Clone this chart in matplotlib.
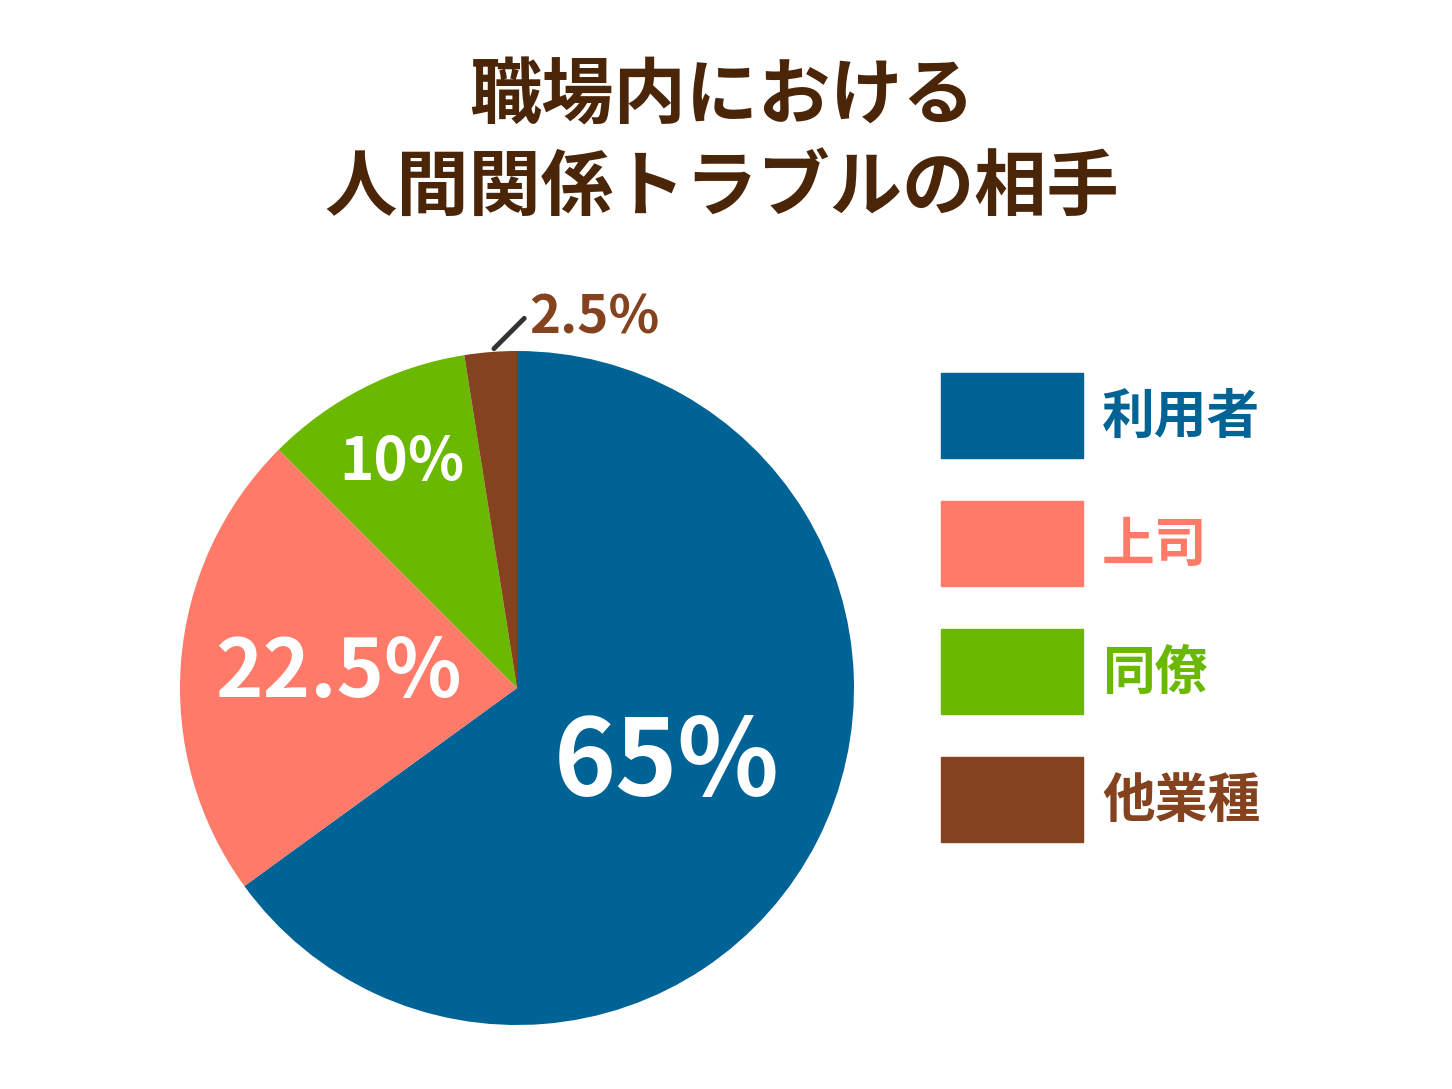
import matplotlib
matplotlib.use("Agg")
import matplotlib.pyplot as plt
from matplotlib.patches import Rectangle
import numpy as np

categories = ["利用者", "上司", "同僚", "他業種"]
values = [65, 22.5, 10, 2.5]
labels = ["65%", "22.5%", "10%", "2.5%"]
colors = ["#006396", "#FF7A69", "#6AB800", "#85421E"]
title = "職場内における\n人間関係トラブルの相手"

FONT = "Noto Sans CJK JP"
W, H = 1452, 1089
fig = plt.figure(figsize=(W/100, H/100), dpi=100)
fig.patch.set_facecolor("white")

fig.text(722/W, 1 - 143/H, title, ha="center", va="center", fontsize=52,
         fontweight="bold", color="#4A2508", family=FONT, linespacing=1.3)

ax = fig.add_axes([(517-337)/W, (H-1025)/H, 674/W, 674/H])
wedges, _ = ax.pie(values, colors=colors, startangle=90, counterclock=False,
                   wedgeprops=dict(linewidth=0))
ax.set_xlim(-1, 1); ax.set_ylim(-1, 1); ax.set_aspect("equal")

radii = [0.5, 0.53, 0.75, None]
sizes = [76, 58, 42, 38]
cum = 0
for i, v in enumerate(values):
    mid = np.deg2rad(90 - (cum + v/2) * 3.6)
    cum += v
    if radii[i] is not None:
        r = radii[i]
        ax.text(r*np.cos(mid), r*np.sin(mid), labels[i], ha="center", va="center",
                fontsize=sizes[i], fontweight="bold", color="white", family=FONT)
    else:
        x0, y0 = 1.0*np.cos(mid), 1.0*np.sin(mid)
        ax.plot([x0+0.01, x0+0.1], [y0+0.01, y0+0.1], color="#333333", lw=3.5,
                clip_on=False, solid_capstyle="round")
        ax.text(x0+0.115, y0+0.1, labels[i], ha="left", va="center",
                fontsize=sizes[i], fontweight="bold", color=colors[i], family=FONT,
                clip_on=False)

for i, (cat, c) in enumerate(zip(categories, colors)):
    top = 373 + i*128
    fig.patches.append(Rectangle((941/W, 1 - (top+85)/H), 142/W, 85/H,
                                 transform=fig.transFigure, color=c))
    fig.text(1102/W, 1 - (top+44)/H, cat, ha="left", va="center", fontsize=38,
             fontweight="bold", color=c, family=FONT)

fig.savefig("out.png", dpi=100)
